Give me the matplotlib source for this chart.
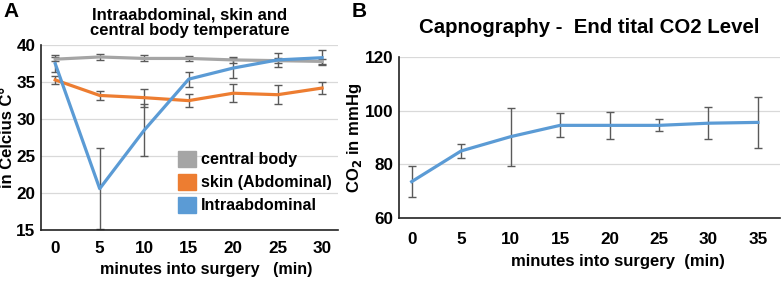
import matplotlib as mpl
import matplotlib.pyplot as plt
from matplotlib.patches import Patch

mpl.rcParams.update({
    "font.family": ["Liberation Sans", "DejaVu Sans"],
    "font.weight": "bold",
    "axes.labelweight": "bold",
    "axes.titleweight": "bold",
    "mathtext.default": "bf",
})

# ----------------- Data ---------------------------------------------------
minutes_a = [0, 5, 10, 15, 20, 25, 30]
central = [38.1, 38.4, 38.2, 38.2, 38.0, 37.9, 37.8]
central_err = [0.25, 0.35, 0.4, 0.3, 0.35, 0.3, 0.3]
skin = [35.3, 33.2, 32.9, 32.5, 33.5, 33.3, 34.2]
skin_err = [0.55, 0.6, 1.2, 0.9, 1.2, 1.25, 0.85]
intra = [37.5, 20.6, 28.5, 35.4, 36.9, 38.0, 38.3]
intra_err = [1.1, 5.5, 3.5, 1.0, 1.3, 1.0, 1.0]

minutes_b = [0, 5, 10, 15, 20, 25, 30, 35]
co2 = [73.6, 85.0, 90.3, 94.5, 94.5, 94.5, 95.3, 95.6]
co2_err = [5.8, 2.6, 10.8, 4.5, 5.0, 2.2, 5.9, 9.4]

C = {"central": "#A5A5A5", "skin": "#ED7D31", "intra": "#5B9BD5",
     "err": "#5a5a5a", "grid": "#d9d9d9", "spine": "#222222"}

fig = plt.figure(figsize=(7.82, 2.82), dpi=100)
ax1 = fig.add_axes([0.0524, 0.184, 0.380, 0.656])
ax2 = fig.add_axes([0.510, 0.226, 0.487, 0.573])


def style(ax, xpad):
    for s in ("top", "right"):
        ax.spines[s].set_visible(False)
    for s in ("left", "bottom"):
        ax.spines[s].set_color(C["spine"])
        ax.spines[s].set_linewidth(1.2)
    ax.tick_params(length=0, labelsize=12.3)
    ax.tick_params(axis="y", pad=4.0)
    ax.tick_params(axis="x", pad=xpad)
    ax.yaxis.grid(True, color=C["grid"], linewidth=0.9)
    ax.set_axisbelow(True)


# ----------------- Panel A -----------------------------------------------
style(ax1, 8.0)
ekw = dict(ecolor=C["err"], elinewidth=1.0, capsize=3, capthick=1.0)
ax1.errorbar(minutes_a, central, yerr=central_err, color=C["central"], lw=2.3, **ekw)
ax1.errorbar(minutes_a, skin, yerr=skin_err, color=C["skin"], lw=2.3, **ekw)
ax1.errorbar(minutes_a, intra, yerr=intra_err, color=C["intra"], lw=2.3, **ekw)
ax1.set_ylim(15, 40)
ax1.set_yticks([15, 20, 25, 30, 35, 40])
ax1.set_xlim(-1.6, 31.8)
ax1.set_xticks(minutes_a)
ax1.set_ylabel("in Celcius C°", fontsize=12, labelpad=0.5)
ax1.set_xlabel("minutes into surgery   (min)", fontsize=11.6, labelpad=6)
ax1.xaxis.set_label_coords(0.556, -0.17)
ax1.set_title("Intraabdominal, skin and\ncentral body temperature",
              fontsize=12, pad=7, linespacing=1.05)
handles = [Patch(color=C["central"], label="central body"),
           Patch(color=C["skin"], label="skin (Abdominal)"),
           Patch(color=C["intra"], label="Intraabdominal")]
ax1.legend(handles=handles, loc="lower left", bbox_to_anchor=(0.461, 0.09),
           frameon=False, fontsize=11.6, handlelength=1.15, handleheight=1.15,
           handletextpad=0.3, labelspacing=0.42, borderpad=0, borderaxespad=0)

# ----------------- Panel B -----------------------------------------------
style(ax2, 10.0)
ax2.errorbar(minutes_b, co2, yerr=co2_err, color=C["intra"], lw=2.3, **ekw)
ax2.set_ylim(60, 120)
ax2.set_yticks([60, 80, 100, 120])
ax2.set_xlim(-1.3, 37.2)
ax2.set_xticks(minutes_b)
ax2.set_ylabel("CO$_2$ in mmHg", fontsize=12, labelpad=0.5)
ax2.set_xlabel("minutes into surgery  (min)", fontsize=12, labelpad=6)
ax2.xaxis.set_label_coords(0.575, -0.22)
ax2.set_title("Capnography -  End tital CO2 Level", fontsize=14.7, pad=17)

fig.text(0.004, 0.94, "A", fontsize=15, fontweight="bold", va="baseline")
fig.text(0.450, 0.94, "B", fontsize=15, fontweight="bold", va="baseline")

fig.savefig("out.png", dpi=100)
